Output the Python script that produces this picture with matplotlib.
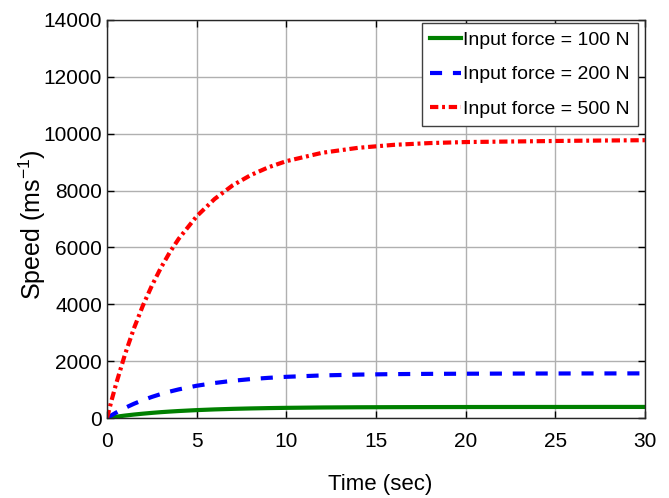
import matplotlib
matplotlib.use("Agg")
import matplotlib.pyplot as plt

plt.rcParams['font.family'] = ['Liberation Sans', 'DejaVu Sans']
plt.rcParams['mathtext.fontset'] = 'custom'
plt.rcParams['mathtext.rm'] = 'Liberation Sans'

# time samples (sec) and speed readings (m/s) for each input force
t = [0, 0.25, 0.5, 1, 1.5, 2, 2.5, 3, 3.5, 4, 5, 6, 7, 8, 9, 10,
     12, 14, 16, 18, 20, 22, 24, 26, 28, 30]
speed_100 = [0, 24, 46, 86, 122, 153, 181, 206, 227, 246, 278, 303, 322, 337,
             349, 358, 371, 378, 382, 385, 387, 388, 389, 389, 390, 390]
speed_200 = [0, 96, 189, 355, 501, 629, 742, 843, 930, 1007, 1135, 1232, 1309,
             1368, 1413, 1449, 1498, 1527, 1544, 1553, 1558, 1562, 1565, 1567,
             1568, 1570]
speed_500 = [0, 614, 1190, 2236, 3153, 3955, 4655, 5279, 5828, 6306, 7095, 7703,
             8179, 8538, 8817, 9033, 9328, 9502, 9607, 9669, 9705, 9720, 9735,
             9750, 9760, 9770]

labels = ['Input force = 100 N', 'Input force = 200 N', 'Input force = 500 N']

fig = plt.figure(figsize=(6.69, 4.98), dpi=100)
ax = fig.add_axes([0.16, 0.1606, 0.804, 0.7994])

ax.plot(t, speed_100, color='#008000', lw=3, label=labels[0])
ax.plot(t, speed_200, color='#0000ff', lw=3, dashes=(2.9, 2.6), label=labels[1])
ax.plot(t, speed_500, color='#ff0000', lw=3, dashes=(2.0, 0.9, 0.7, 0.9), label=labels[2])

ax.set_xlim(0, 30)
ax.set_ylim(0, 14000)
ax.set_xticks(range(0, 31, 5))
ax.set_yticks(range(0, 14001, 2000))
ax.grid(True, color='#b0b0b0', lw=1, ls='-')
ax.set_axisbelow(True)
ax.tick_params(direction='in', top=True, right=True, length=5, width=1,
               labelsize=15, colors='black')
ax.tick_params(axis='x', pad=10)
for s in ax.spines.values():
    s.set_color('#262626')
    s.set_linewidth(1)

ax.set_xlabel('Time (sec)', fontsize=16)
ax.xaxis.set_label_coords(0.507, -0.14)
ax.xaxis.label.set_va('top')
ax.set_ylabel('Speed (ms$^{-1}$)', fontsize=18)
ax.yaxis.set_label_coords(-0.11, 0.485)

leg = ax.legend(loc='upper right', bbox_to_anchor=(0.987, 0.9925), borderaxespad=0,
                fontsize=14, handlelength=1.55, handletextpad=0.1,
                borderpad=0.45, labelspacing=0.85,
                fancybox=False, framealpha=1, edgecolor='#404040')
leg.get_frame().set_linewidth(1)

fig.savefig('out.png', dpi=100)
